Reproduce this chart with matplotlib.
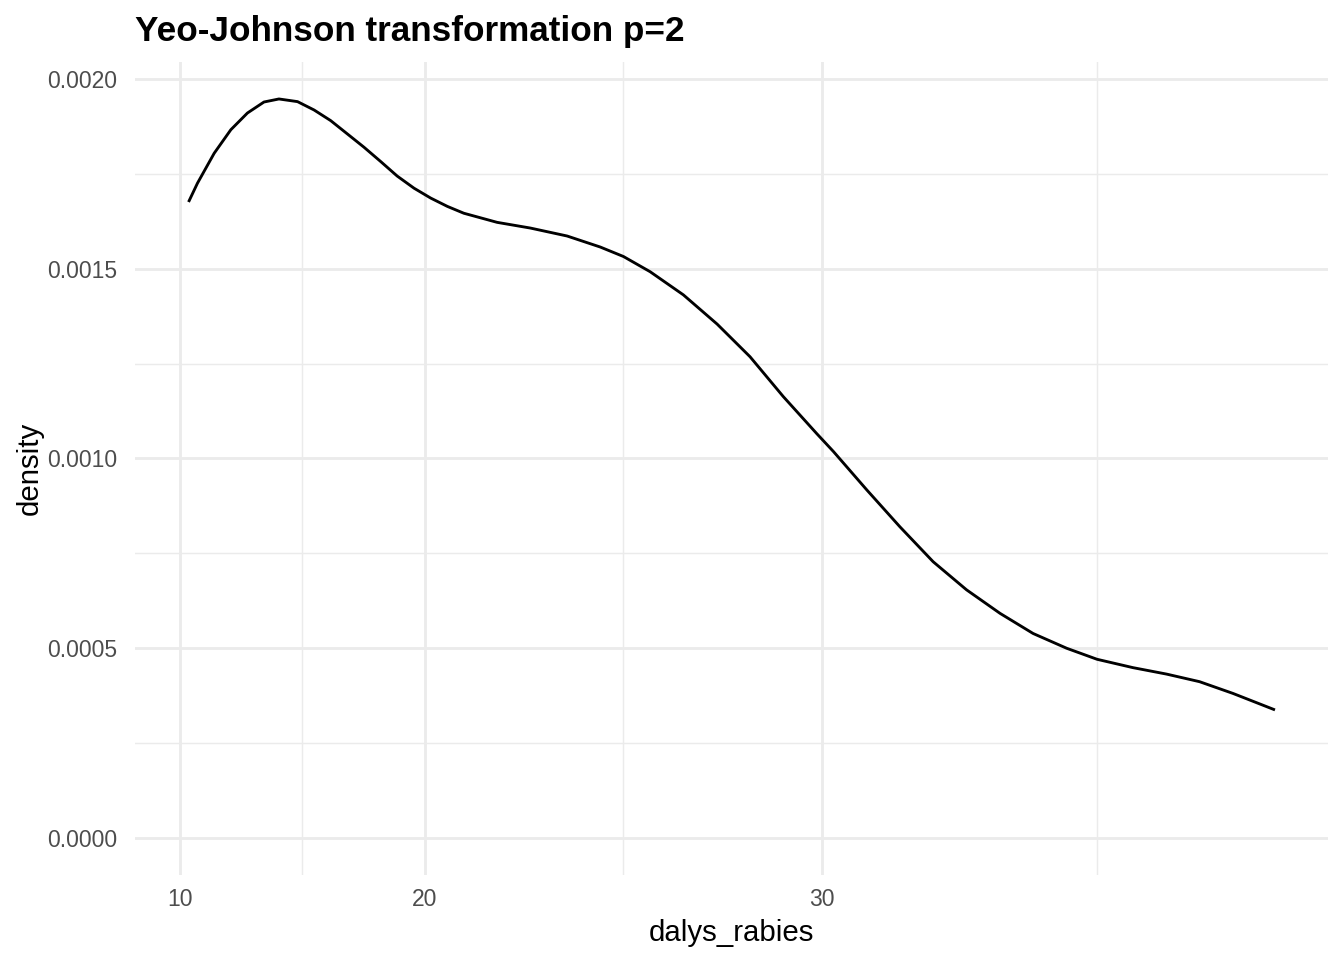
import numpy as np
import matplotlib
matplotlib.use("Agg")
import matplotlib.pyplot as plt
from matplotlib.ticker import FixedLocator, NullFormatter

# density curve (x in original dalys_rabies units)
dalys_rabies = [10.54, 11.00, 11.88, 12.70, 13.47, 14.20, 14.83, 15.58, 16.22, 16.84,
                17.44, 18.02, 18.59, 19.13, 19.67, 20.19, 20.70, 21.19, 22.15, 23.07,
                24.05, 24.90, 25.48, 26.13, 26.92, 27.70, 28.44, 29.17, 29.89, 30.24,
                30.93, 31.60, 32.26, 32.91, 33.55, 34.17, 34.79, 35.34, 35.98, 36.57,
                37.14, 37.71, 38.39]
density = [0.001679, 0.001725, 0.001804, 0.001866, 0.001910, 0.001939, 0.001947, 0.001940,
           0.001918, 0.001890, 0.001855, 0.001820, 0.001782, 0.001744, 0.001712, 0.001686,
           0.001664, 0.001646, 0.001622, 0.001607, 0.001586, 0.001557, 0.001532, 0.001492,
           0.001431, 0.001354, 0.001268, 0.001163, 0.001065, 0.001018, 0.000917, 0.000820,
           0.000728, 0.000654, 0.000592, 0.000539, 0.000500, 0.000471, 0.000449, 0.000432,
           0.000412, 0.000381, 0.000339]

x_breaks = [10, 20, 30]
y_breaks = [0.0, 0.0005, 0.0010, 0.0015, 0.0020]


def yj(x):
    # Yeo-Johnson, lambda = 2, x >= 0
    x = np.asarray(x, dtype=float)
    return ((x + 1) ** 2 - 1) / 2


def yj_inv(t):
    t = np.asarray(t, dtype=float)
    return np.sqrt(np.clip(2 * t + 1, 0, None)) - 1


plt.rcParams['font.family'] = ['Liberation Sans', 'DejaVu Sans']

fig = plt.figure(figsize=(7, 5), dpi=192)
ax = fig.add_axes([0.1004, 0.0885, 0.8876, 0.8469])

ax.set_xscale('function', functions=(yj, yj_inv))
ax.plot(dalys_rabies, density, color='black', lw=1.07, solid_joinstyle='round', zorder=3)

# ggplot-style 5% expansion in transformed space
t = yj(dalys_rabies)
tr = t.max() - t.min()
ax.set_xlim(float(yj_inv(t.min() - 0.05 * tr)), float(yj_inv(t.max() + 0.05 * tr)))
ymax = max(density)
ax.set_ylim(-0.05 * ymax, ymax * 1.05)

tb = yj(x_breaks)
minor_t = list((tb[:-1] + tb[1:]) / 2) + [tb[-1] + (yj(40) - tb[-1]) / 2]
ax.xaxis.set_major_locator(FixedLocator(x_breaks))
ax.xaxis.set_minor_locator(FixedLocator(yj_inv(minor_t)))
ax.xaxis.set_minor_formatter(NullFormatter())
ax.set_xticklabels([str(b) for b in x_breaks])
ax.yaxis.set_major_locator(FixedLocator(y_breaks))
ax.yaxis.set_minor_locator(FixedLocator([0.00025, 0.00075, 0.00125, 0.00175]))
ax.set_yticklabels(['%.4f' % b for b in y_breaks])

ax.grid(which='major', color='#EBEBEB', lw=1.07)
ax.grid(which='minor', color='#EBEBEB', lw=0.53)
ax.set_axisbelow(True)
for s in ax.spines.values():
    s.set_visible(False)
ax.tick_params(which='both', length=0, labelsize=8.6, labelcolor='#4D4D4D')
ax.tick_params(axis='y', pad=6.5)
ax.tick_params(axis='x', pad=5)

ax.set_xlabel('dalys_rabies', fontsize=11, labelpad=3)
ax.set_ylabel('density', fontsize=11, labelpad=1.5)
ax.set_title('Yeo-Johnson transformation p=2', fontsize=13.2, fontweight='bold',
             loc='left', pad=8)

fig.savefig('out.png', dpi=192)
